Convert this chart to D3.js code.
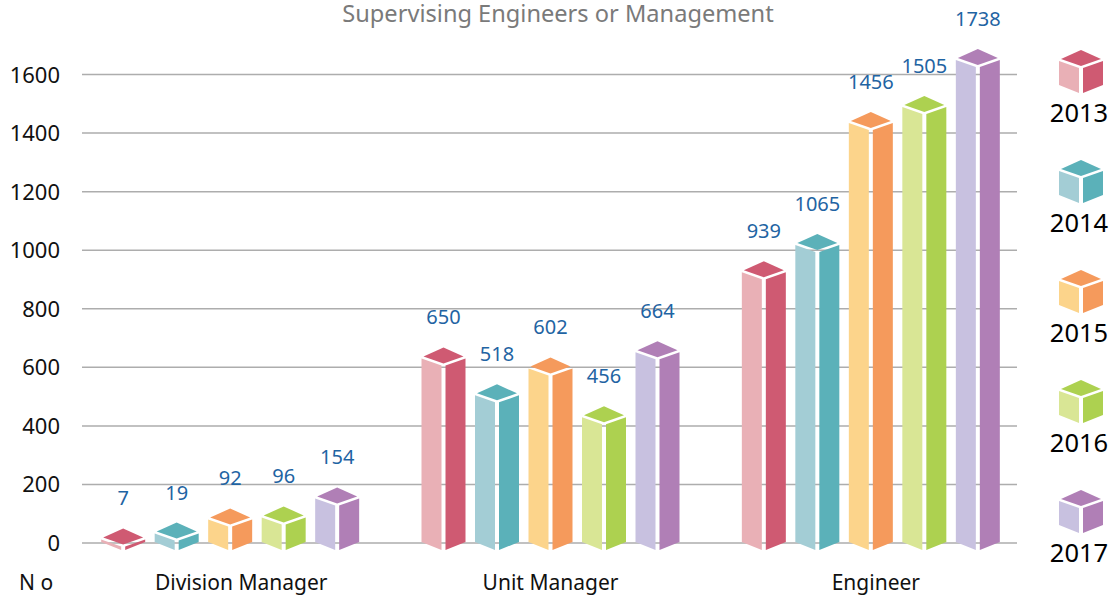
<!DOCTYPE html>
<html>
<head>
<meta charset="utf-8">
<script src="https://d3js.org/d3.v7.min.js"></script>
<style>
html,body{margin:0;padding:0;background:#fff;}
svg{display:block;font-family:"Noto Sans",sans-serif;}
</style>
</head>
<body>
<svg id="chart" width="1112" height="596"></svg>
<script>
var title = "Supervising Engineers or Management";
var categories = ["Division Manager", "Unit Manager", "Engineer"];
var years = ["2013", "2014", "2015", "2016", "2017"];
var yTicks = [0, 200, 400, 600, 800, 1000, 1200, 1400, 1600];

// printed numbers
var divisionLabels = [7, 19, 92, 96, 154];
var unitLabels = [650, 518, 602, 456, 664];
var engineerLabels = [939, 1065, 1456, 1505, 1738];

// bar heights as they read against the axis (the picture does not draw them to the printed number)
var divisionLevels = [14, 34, 82, 89, 154];
var unitLevels = [632, 506, 598, 431, 653];
var engineerLevels = [926, 1019, 1436, 1491, 1651];

var lightColors = ["#e9b0b6", "#a3cdd5", "#fcd48b", "#d9e695", "#c8c1e0"];
var darkColors = ["#cf5a72", "#5bb1b9", "#f59a5c", "#add150", "#b07fb6"];

var labelRows = [divisionLabels, unitLabels, engineerLabels];
var levelRows = [divisionLevels, unitLevels, engineerLevels];

var svg = d3.select("#chart");

var y = d3.scaleLinear().domain([0, 1600]).range([542.5, 74]);
var x0 = d3.scaleBand().domain(categories).range([70, 1031]).padding(0);
var x1 = d3.scalePoint().domain(years).range([-107, 107]);
var legendY = d3.scalePoint().domain(years).range([61, 501]);

svg.append("text")
    .attr("x", 558).attr("y", 22)
    .attr("text-anchor", "middle")
    .style("font-size", "23.6px")
    .style("fill", "#7a7a7a")
    .text(title);

// grid + y labels
var yAxis = svg.append("g")
    .attr("transform", "translate(82,0)")
    .call(d3.axisLeft(y).tickValues(yTicks).tickSize(-935).tickPadding(22).tickFormat(d3.format("d")));
yAxis.select(".domain").remove();
yAxis.selectAll("line").attr("stroke", "#adadad").attr("stroke-width", 1.5);
yAxis.selectAll("text")
    .attr("y", 1)
    .style("font-family", "'Noto Sans',sans-serif")
    .style("font-size", "22px")
    .style("fill", "#111");

var xAxis = svg.append("g")
    .attr("transform", "translate(0,569)")
    .call(d3.axisBottom(x0).tickSize(0).tickPadding(6));
xAxis.select(".domain").remove();
// the category names do not sit quite over their groups in the original
var labelShift = [11, 0, 5];
xAxis.selectAll("text")
    .attr("dx", function (d, i) { return labelShift[i]; })
    .style("font-family", "'Noto Sans',sans-serif")
    .style("font-size", "21px")
    .style("fill", "#111");

svg.append("text")
    .attr("x", 19).attr("y", 590)
    .style("font-size", "21px")
    .style("fill", "#111")
    .text("N o");

function drawPrism(parent, cx, top, base, i) {
    var g = parent.append("g");
    g.append("polygon")
        .attr("points", [[cx - 22, top], [cx - 2, top + 7], [cx - 2, base + 8], [cx - 22, base]].join(" "))
        .attr("fill", lightColors[i]);
    g.append("polygon")
        .attr("points", [[cx + 22, top], [cx + 2, top + 7], [cx + 2, base + 8], [cx + 22, base]].join(" "))
        .attr("fill", darkColors[i]);
    g.append("polygon")
        .attr("points", [[cx, top - 11], [cx + 20, top - 2], [cx, top + 5], [cx - 20, top - 2]].join(" "))
        .attr("fill", darkColors[i]);
}

categories.forEach(function (cat, c) {
    var center = x0(cat) + x0.bandwidth() / 2;
    years.forEach(function (year, i) {
        var cx = center + x1(year);
        var top = y(levelRows[c][i]) + 1;
        drawPrism(svg, cx, top, y(0) - 0.5, i);
        svg.append("text")
            .attr("x", cx).attr("y", top - 41)
            .attr("dy", "0.35em")
            .attr("text-anchor", "middle")
            .style("font-size", "20px")
            .style("fill", "#1f64a3")
            .text(labelRows[c][i]);
    });
});

// legend
years.forEach(function (year, i) {
    var top = legendY(year);
    drawPrism(svg, 1081, top, top + 24, i);
    svg.append("text")
        .attr("x", 1079).attr("y", top + 52)
        .attr("dy", "0.35em")
        .attr("text-anchor", "middle")
        .style("font-size", "25.5px")
        .style("fill", "#000")
        .text(year);
});
</script>
</body>
</html>
